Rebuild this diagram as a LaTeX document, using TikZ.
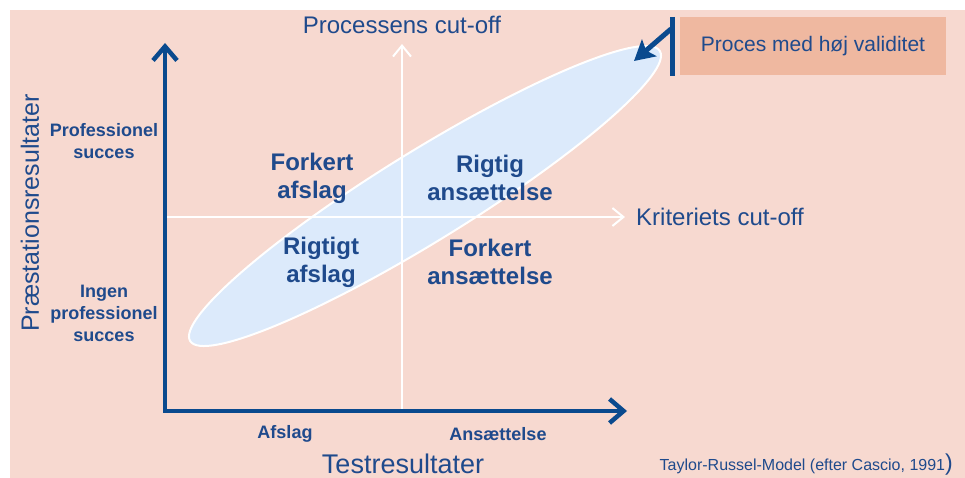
\documentclass[tikz,border=0pt]{standalone}
\usepackage{fontspec}
\setmainfont{Liberation Sans}
\usetikzlibrary{arrows.meta,calc}
\definecolor{bgpink}{HTML}{F7D9D0}
\definecolor{boxpink}{HTML}{EFB8A0}
\definecolor{axblue}{HTML}{0A4A8E}
\definecolor{txtblue}{HTML}{1F4A8C}
\definecolor{ellblue}{HTML}{DCEAFB}
\tikzset{
  axis/.style={draw=axblue, line width=4.5pt, -{Straight Barb[length=14pt,width=24pt]}},
  cutline/.style={draw=white, line width=2pt, -{Straight Barb[length=11pt,width=18pt]}},
  quad/.style={text=txtblue, font=\bfseries\fontsize{24}{28}\selectfont, align=center, inner sep=0pt},
  side/.style={text=txtblue, font=\bfseries\fontsize{18}{22}\selectfont, align=center, inner sep=0pt},
  big/.style={text=txtblue, font=\fontsize{24}{28}\selectfont, inner sep=0pt},
}
\begin{document}
\begin{tikzpicture}[x=1pt,y=-1pt]
\useasboundingbox (0,0) rectangle (965,478);
\fill[white] (0,0) rectangle (965,478);
\fill[bgpink] (10,10) rectangle (965,478);
% ellipse
\path[draw=white, line width=2pt, fill=ellblue] (425,196) ellipse [x radius=276, y radius=45, rotate=31.7];
% coordinates
\coordinate (O) at (165,411);
\coordinate (ytop) at (165,43);
\coordinate (xend) at (627,411);
\coordinate (vb) at (402,411);
\coordinate (vt) at (402,44);
\coordinate (hl) at (167,217);
\coordinate (hr) at (625,217);
% white cut-off lines
\draw[cutline] (vb) -- (vt);
\draw[cutline] (hl) -- (hr);
% axes
\draw[axis] (O) -- (xend);
\draw[axis] (O) -- (ytop);
\fill[axblue] ($(O)+(-2.25,-2.25)$) rectangle ($(O)+(2.25,2.25)$);
% callout
\node[fill=boxpink, minimum width=266pt, minimum height=58pt, inner sep=0pt] (box) at (813,46) {};
\node[text=txtblue, font=\fontsize{21}{25}\selectfont, inner sep=0pt] (boxtxt) at (box.center) {Proces med høj validitet};
\coordinate (bart) at (672.5,17);
\coordinate (barb) at (672.5,76);
\draw[axblue, line width=5pt] (bart) -- (barb);
\coordinate (arrs) at (671,29);
\coordinate (arre) at (634,61);
\draw[axblue, line width=5pt, -{Stealth[length=20pt,width=22pt,inset=4pt]}] (arrs) -- (arre);
% axis texts
\node[big] (proc) at (402,25) {Processens cut-off};
\node[big, anchor=west] (krit) at (636,217) {Kriteriets cut-off};
\node[text=txtblue, font=\fontsize{27}{30}\selectfont, inner sep=0pt] (test) at (403,464) {Testresultater};
\node[text=txtblue, font=\fontsize{25}{30}\selectfont, inner sep=0pt, rotate=90] (praes) at (30,213) {Præstationsresultater};
% side labels
\node[side] (ps) at (104,141) {Professionel\\succes};
\node[side] (ips) at (104,313) {Ingen\\professionel\\succes};
\node[side] (afs) at (285,434) {Afslag};
\node[side] (ans) at (498,434) {Ansættelse};
% quadrants
\node[quad] (fa) at (312,178) {Forkert\\afslag};
\node[quad] (ra) at (490,178) {Rigtig\\ansættelse};
\node[quad] (rta) at (321,262) {Rigtigt\\afslag};
\node[quad] (fan) at (490,262) {Forkert\\ansættelse};
% source
\node[text=txtblue, font=\fontsize{16}{19}\selectfont, inner sep=0pt, anchor=east] (src) at (953,465) {Taylor-Russel-Model (efter Cascio, 1991{\fontsize{23}{23}\selectfont)}};
\end{tikzpicture}
\end{document}
